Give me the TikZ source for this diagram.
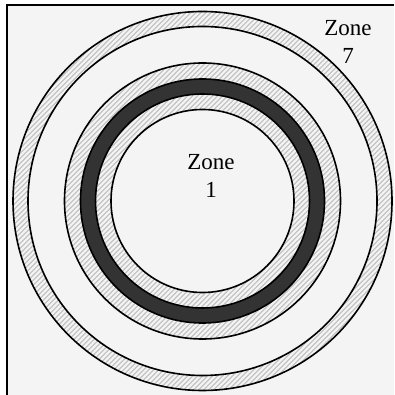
\documentclass[tikz,border=0pt]{standalone}
\usepackage{fontspec}
\setmainfont{Liberation Serif}
\definecolor{bgc}{HTML}{F4F4F4}
\definecolor{darkring}{HTML}{333333}
\definecolor{hatchc}{HTML}{C4C4C4}
\tikzset{
  ringline/.style={draw=black, line width=1.6pt},
  hatchline/.style={draw=hatchc, line width=1.2pt},
  zonelabel/.style={align=center, inner sep=0pt, font=\fontsize{23}{28}\selectfont},
}
\newcommand{\hatchfill}[1]{%
  \fill[bgc] (202.5,194) circle (#1);
  \begin{scope}
    \clip (202.5,194) circle (#1);
    \foreach \k in {-90,...,90} {
      \draw[hatchline] ({202.5+5*\k-200},-6) -- ++(400,400);
    }
  \end{scope}}
\begin{document}
\begin{tikzpicture}[x=1pt,y=1pt]
\useasboundingbox (0,0) rectangle (394,395);
\fill[white] (0,0) rectangle (394,395);
\fill[bgc] (7,0) rectangle (394,390);
\draw[line width=1.6pt] (7,0) -- (7,390) -- (394,390);
% outer hatched ring
\hatchfill{189.5}
\fill[bgc] (202.5,194) circle (174.5);
% middle hatched ring with dark band
\hatchfill{138}
\fill[darkring] (202.5,194) circle (122);
% inner hatched ring
\hatchfill{107}
\fill[bgc] (202.5,194) circle (91.5);
% outlines
\foreach \r in {189.5,174.5,138,122,107,91.5} {
  \draw[ringline] (202.5,194) circle (\r);
}
\node[zonelabel] (z1) at (211,219) {Zone\\1};
\node[zonelabel] (z7) at (348,353) {Zone\\7};
\end{tikzpicture}
\end{document}
